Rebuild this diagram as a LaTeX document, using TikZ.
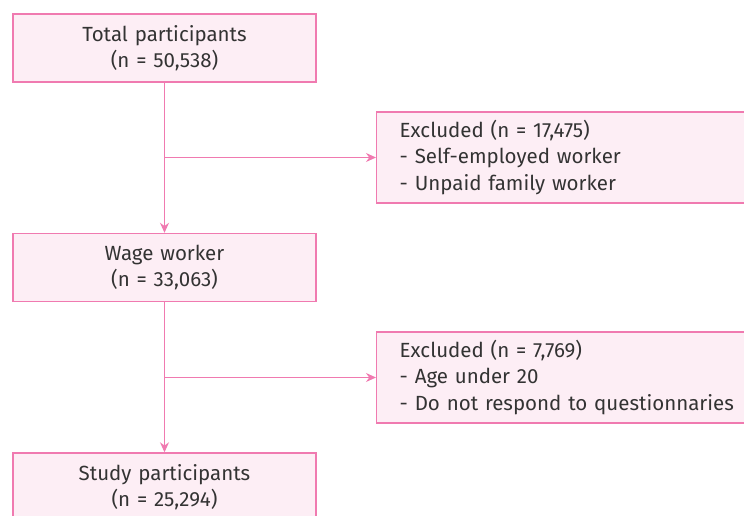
\documentclass[tikz,border=0pt]{standalone}
\usepackage{fontspec}
\setmainfont{Fira Sans}
\usepackage{xcolor}
\usepackage{tikz}
\usetikzlibrary{arrows.meta, positioning, calc}

\definecolor{flowpink}{HTML}{F07AB0}
\definecolor{flowfill}{HTML}{FDEEF5}
\definecolor{flowtext}{HTML}{333333}

\begin{document}
\begin{tikzpicture}[
		x=1pt, y=-1pt,
		>={Stealth[length=10pt, width=9pt]},
		line width=1.4pt,
		every node/.style={font=\fontsize{20.5}{26.5}\selectfont, text=flowtext},
		mainbox/.style={
				rectangle,
				minimum width = 303pt,
				text width = 290pt,
				align=center,
				minimum height = 68pt,
				inner sep=0pt,
				draw=flowpink,
				line width=1.4pt,
				fill=flowfill
			},
		excludebox/.style={
				rectangle,
				anchor=west,
				minimum width = 420pt,
				text width = 374pt,
				align=left,
				minimum height = 91pt,
				inner xsep=23pt,
				inner ysep=0pt,
				draw=flowpink,
				line width=1.4pt,
				fill=flowfill
			},
		flow/.style={->, draw=flowpink, line width=1.4pt},
		]
		
		\useasboundingbox (0,0) rectangle (744,516);
		\clip (0,0) rectangle (744,516);
		
		\node[mainbox] (total) at (164.5,48) {Total participants\\(n = 50,538)};
		
		\node[mainbox] (wage) at (164.5,267.5) {Wage worker\\(n = 33,063)};
		
		\node[mainbox] (study) at (164.5,487) {Study participants\\(n = 25,294)};
		
		\node[excludebox] (excl1) at (376,157.5) {Excluded (n = 17,475)\\- Self-employed worker\\- Unpaid family worker};
		
		\node[excludebox] (excl2) at (376,377.5) {Excluded (n = 7,769)\\- Age under 20\\- Do not respond to questionnaries};
		
		\coordinate (split1) at (total.south |- excl1.west);
		\coordinate (split2) at (wage.south |- excl2.west);
		
		\draw[flow] (total) -- (wage);
		
		\draw[flow] (split1) -- (excl1.west);
		
		\draw[flow] (wage) -- (study);
		
		\draw[flow] (split2) -- (excl2.west);
		
	\end{tikzpicture}
\end{document}
